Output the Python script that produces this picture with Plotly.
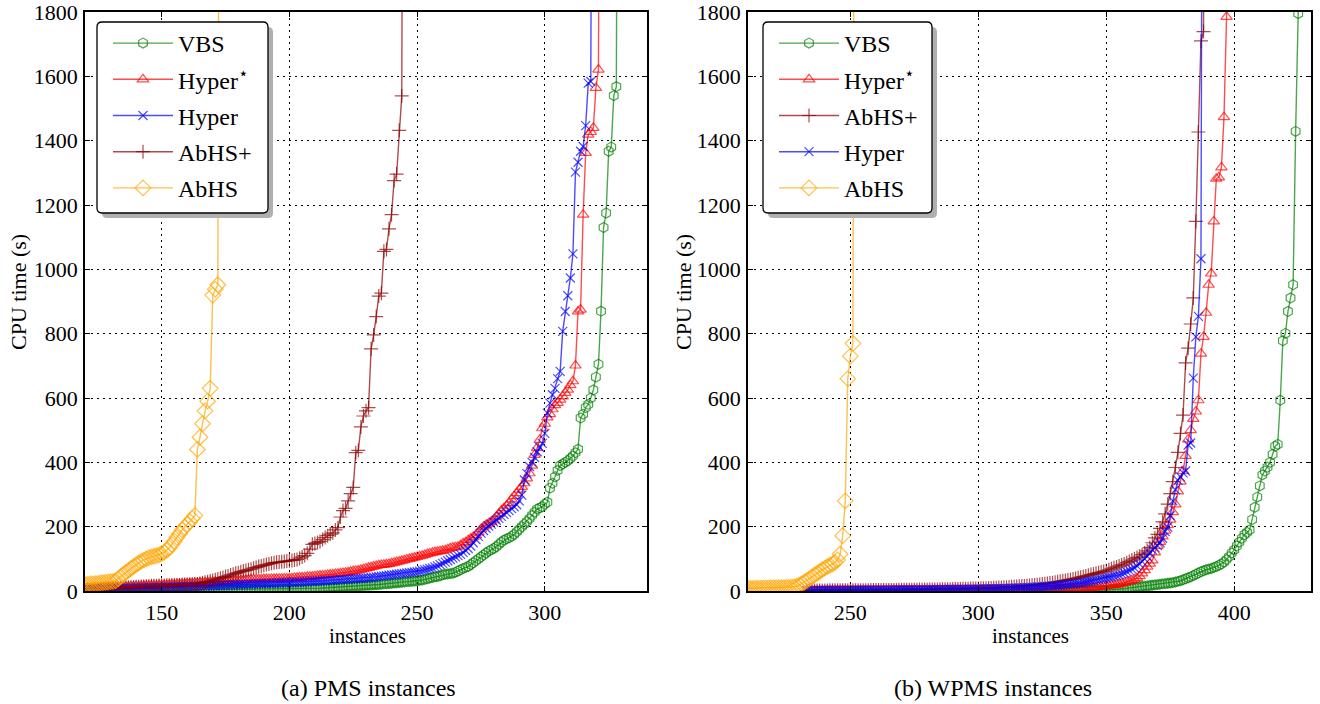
import plotly.graph_objects as go

# ---------------- DATA (CPU time in seconds, sorted, one value per solved instance) ----------------
series_names = ["VBS", "Hyper<sup>⋆</sup>", "Hyper", "AbHS+", "AbHS"]

# ---- (a) PMS instances ----
pms_vbs_start = 120
pms_vbs = [
    0.3, 0.3, 0.4, 0.4, 0.4, 0.5, 0.5, 0.5, 0.6, 0.6,          # 120-129
    0.7, 0.7, 0.8, 0.8, 0.9, 0.9, 1.0, 1.0, 1.1, 1.1,          # 130-139
    1.2, 1.2, 1.3, 1.3, 1.4, 1.5, 1.5, 1.6, 1.7, 1.7,          # 140-149
    1.8, 1.9, 2.0, 2.0, 2.1, 2.2, 2.3, 2.4, 2.5, 2.6,          # 150-159
    2.7, 2.8, 2.9, 3.0, 3.0, 3.1, 3.2, 3.3, 3.3, 3.4,          # 160-169
    3.5, 3.6, 3.6, 3.7, 3.8, 3.9, 3.9, 4.0, 4.1, 4.2,          # 170-179
    4.2, 4.3, 4.4, 4.5, 4.5, 4.6, 4.7, 4.8, 4.8, 4.9,          # 180-189
    5.0, 5.0, 5.1, 5.1, 5.2, 5.2, 5.3, 5.3, 5.4, 5.5,          # 190-199
    5.6, 5.8, 6.0, 6.2, 6.4, 6.6, 6.9, 7.2, 7.5, 7.8,          # 200-209
    8.0, 8.4, 8.8, 9.2, 9.6, 10, 10.5, 11, 11.5, 12,           # 210-219
    12.5, 13, 13.5, 14, 14.5, 15, 15.5, 16, 16.5, 17,          # 220-229
    17.5, 18, 18.5, 19, 19.5, 20, 21, 22, 22.5, 23,            # 230-239
    24, 25, 25.5, 26, 27, 28, 29, 29.5, 30, 31,                # 240-249
    32, 33, 34, 36, 38, 40, 42, 44, 45, 47,                    # 250-259
    50, 52, 53, 54, 55, 58, 62, 66, 70, 73,                    # 260-269
    76, 82, 88, 94, 100, 106, 112, 118, 124, 128,              # 270-279
    132, 138, 145, 152, 158, 162, 165, 170, 176, 184,          # 280-289
    192, 200, 208, 216, 225, 235, 245, 255, 258, 262,          # 290-299
    270, 276, 320, 335, 355, 375, 390, 395, 400, 405,          # 300-309
    412, 420, 430, 441, 538, 550, 570, 580, 600, 625,          # 310-319
    665, 705, 870, 1130, 1175, 1367, 1380, 1540, 1568, 4000,   # 320-329
]

pms_hyperstar_start = 120
pms_hyperstar = [
    8, 8.5, 9, 9, 9.5, 10, 10, 10.5, 11, 11,                   # 120-129
    11.5, 12, 12, 12.5, 13, 13, 13.5, 14, 14, 14.5,            # 130-139
    15, 15, 15.5, 16, 16, 16.5, 17, 17, 17.5, 18,              # 140-149
    18, 18.5, 19, 19.5, 20, 20.5, 21, 21.5, 22, 22.5,          # 150-159
    23, 23.5, 24, 24.5, 25, 25.5, 26, 26.5, 27, 27.5,          # 160-169
    28, 28.5, 29, 29.5, 30, 30.5, 31, 31.5, 32, 32.5,          # 170-179
    33, 33.5, 34, 34.5, 35, 35.5, 36, 36, 36.5, 36.5,          # 180-189
    37, 37, 37.5, 37.5, 38, 38, 38.5, 38.5, 39, 39,            # 190-199
    39.5, 40, 40.5, 41, 42, 42.5, 43, 44, 44.5, 45,            # 200-209
    46, 47, 48, 48.5, 49, 50, 51, 52, 53, 54,                  # 210-219
    55, 56, 57, 58, 60, 62, 63, 64, 66, 68,                    # 220-229
    70, 72, 74, 76, 78, 80, 81, 82, 83, 84,                    # 230-239
    86, 88, 90, 92, 94, 96, 98, 100, 102, 104,                 # 240-249
    106, 108, 110, 112, 115, 117, 119, 121, 122, 124,          # 250-259
    125, 127, 130, 133, 135, 136, 138, 142, 148, 152,          # 260-269
    158, 163, 168, 174, 182, 192, 200, 205, 210, 215,          # 270-279
    220, 231, 240, 250, 257, 265, 273, 285, 295, 304,          # 280-289
    315, 324, 335, 350, 366, 390, 423, 445, 470, 506,          # 290-299
    520, 540, 550, 565, 578, 585, 595, 605, 616, 626,          # 300-309
    640, 652, 701, 869, 875, 1170, 1362, 1419, 1427, 1440,     # 310-319
    1564, 1621, 4000,                                          # 320-322
]

pms_hyper_start = 120
pms_hyper = [
    5, 5.2, 5.4, 5.6, 5.8, 6, 6.2, 6.4, 6.6, 6.8,              # 120-129
    7, 7.2, 7.4, 7.6, 7.8, 8, 8.2, 8.4, 8.6, 8.8,              # 130-139
    9, 9.2, 9.4, 9.6, 9.8, 10, 10.2, 10.4, 10.6, 10.8,         # 140-149
    11, 11.3, 11.6, 11.9, 12.2, 12.5, 12.8, 13.1, 13.4, 13.7,  # 150-159
    14, 14.3, 14.6, 14.9, 15.2, 15.5, 15.8, 16.1, 16.4, 16.7,  # 160-169
    17, 17.3, 17.6, 17.9, 18.2, 18.5, 18.8, 19.1, 19.4, 19.7,  # 170-179
    20, 20.3, 20.6, 20.9, 21.2, 21.5, 21.8, 22.1, 22.4, 22.7,  # 180-189
    23, 23.3, 23.6, 23.9, 24.2, 24.5, 24.8, 25.1, 25.4, 25.7,  # 190-199
    26, 26.3, 26.6, 27, 27.4, 27.8, 28.2, 28.6, 29, 29.5,      # 200-209
    30, 30.5, 31, 31.5, 32, 32.5, 33, 33.5, 34, 34.5,          # 210-219
    35, 35.5, 36, 36.5, 37, 37.5, 38, 38.5, 39, 39.5,          # 220-229
    40, 41, 42, 43, 44, 45, 46, 47, 48, 49,                    # 230-239
    50, 51, 52, 53, 54, 55, 56, 57, 58, 59,                    # 240-249
    60, 62, 64, 66, 68, 70, 72, 75, 78, 82,                    # 250-259
    86, 90, 94, 98, 102, 106, 110, 114, 120, 126,              # 260-269
    132, 140, 150, 160, 170, 180, 188, 195, 202, 208,          # 270-279
    214, 220, 226, 232, 238, 244, 250, 256, 262, 268,          # 280-289
    280, 298, 345, 365, 387, 400, 415, 433, 446, 459,          # 290-299
    490, 553, 584, 610, 630, 660, 683, 807, 869, 918,          # 300-309
    973, 1048, 1302, 1333, 1367, 1382, 1447, 1579, 1584, 4000, # 310-319
]

pms_abhsplus_start = 120
pms_abhsplus = [
    3, 3, 4, 4, 5, 5, 6, 6, 7, 7,                              # 120-129
    8, 8, 9, 9, 10, 10, 11, 11, 12, 12,                        # 130-139
    13, 13, 14, 14, 15, 15, 16, 16, 16, 17,                    # 140-149
    17, 17, 18, 18, 18, 19, 19, 19, 20, 20,                    # 150-159
    20, 21, 21, 22, 22, 23, 25, 27, 29, 31,                    # 160-169
    33, 35, 37, 40, 42, 45, 47, 50, 52, 55,                    # 170-179
    57, 60, 62, 64, 66, 68, 71, 73, 76, 78,                    # 180-189
    80, 82, 84, 86, 88, 89, 90, 91, 92, 93,                    # 190-199
    94, 95, 96, 98, 102, 106, 110, 117, 130, 145,              # 200-209
    148, 151, 154, 160, 166, 172, 177, 181, 190, 197,          # 210-219
    230, 250, 257, 280, 303, 322, 430, 437, 510, 544,          # 220-229
    560, 570, 753, 796, 853, 917, 926, 1056, 1062, 1126,       # 230-239
    1170, 1276, 1296, 1432, 1539, 4000,                        # 240-245
]

pms_abhs_start = 118
pms_abhs = [
    18, 19, 20, 21, 22, 22, 23, 24, 25, 26,                    # 118-127
    27, 28, 29, 30, 32, 38, 45, 52, 58, 64,                    # 128-137
    70, 76, 82, 87, 92, 96, 100, 104, 106, 108,                # 138-147
    110, 112, 116, 120, 126, 134, 145, 155, 167, 178,          # 148-157
    190, 198, 207, 216, 225, 235, 440, 478, 520, 560,          # 158-167
    590, 630, 920, 938, 952, 4000,                             # 168-173
]

# ---- (b) WPMS instances ----
wpms_vbs_start = 330
wpms_vbs = [
    0.2, 0.2, 0.3, 0.3, 0.3, 0.4, 0.4, 0.4, 0.5, 0.5,          # 330-339
    0.6, 0.7, 0.9, 1.1, 1.3, 1.5, 1.8, 2.1, 2.4, 2.7,          # 340-349
    3, 3.5, 4, 4.5, 5, 5.5, 6, 7, 8, 9,                        # 350-359
    10, 11, 12, 13, 14, 15, 16, 17, 18, 19,                    # 360-369
    20, 21, 22, 23, 24, 25, 26, 28, 30, 32,                    # 370-379
    35, 38, 41, 44, 48, 52, 56, 60, 63, 66,                    # 380-389
    68, 70, 73, 76, 80, 84, 90, 98, 107, 118,                  # 390-399
    128, 140, 152, 164, 175, 182, 190, 222, 260, 292,          # 400-409
    327, 361, 373, 385, 400, 425, 450, 456, 593, 778,          # 410-419
    801, 869, 911, 952, 1429, 1795, 4000,                      # 420-426
]

wpms_hyperstar_start = 233
wpms_hyperstar = [
    1.0, 1.0, 1.1, 1.1, 1.1, 1.2, 1.2, 1.2, 1.3, 1.3,          # 233-242
    1.3, 1.4, 1.4, 1.4, 1.5, 1.5, 1.5, 1.6, 1.6, 1.6,          # 243-252
    1.7, 1.7, 1.7, 1.8, 1.8, 1.8, 1.9, 1.9, 1.9, 2.0,          # 253-262
    2.0, 2.0, 2.1, 2.1, 2.1, 2.2, 2.2, 2.2, 2.3, 2.3,          # 263-272
    2.3, 2.4, 2.4, 2.4, 2.5, 2.5, 2.5, 2.6, 2.6, 2.6,          # 273-282
    2.7, 2.7, 2.8, 2.8, 2.9, 2.9, 3.0, 3.0, 3.1, 3.1,          # 283-292
    3.2, 3.2, 3.3, 3.3, 3.4, 3.4, 3.5, 3.5, 3.6, 3.6,          # 293-302
    3.7, 3.7, 3.8, 3.8, 3.9, 4.0, 4.0, 4.1, 4.2, 4.2,          # 303-312
    4.3, 4.4, 4.4, 4.5, 4.6, 4.7, 4.8, 4.9, 5.0, 5.1,          # 313-322
    5.2, 5.3, 5.4, 5.6, 5.8, 6.0, 6.2, 6.4, 6.6, 6.8,          # 323-332
    7.0, 7.3, 7.6, 7.9, 8.2, 8.5, 8.8, 9.2, 9.6, 10,           # 333-342
    10.5, 11, 11.5, 12, 13, 14, 15, 16, 17, 18,                # 343-352
    19, 20, 22, 24, 26, 28, 30, 33, 36, 40,                    # 353-362
    46, 55, 65, 76, 85, 95, 120, 140, 153, 170,                # 363-372
    188, 205, 222, 245, 269, 310, 340, 373, 420, 471,          # 373-382
    500, 535, 558, 593, 738, 790, 865, 952, 987, 1149,         # 383-392
    1282, 1286, 1317, 1473, 1785, 4000,                        # 393-398
]

wpms_abhsplus_start = 233
wpms_abhsplus = [
    1.5, 1.6, 1.6, 1.7, 1.7, 1.8, 1.8, 1.9, 1.9, 2.0,          # 233-242
    2.0, 2.1, 2.1, 2.2, 2.2, 2.3, 2.3, 2.4, 2.4, 2.5,          # 243-252
    2.5, 2.6, 2.6, 2.7, 2.7, 2.8, 2.8, 2.9, 2.9, 3.0,          # 253-262
    3.0, 3.1, 3.1, 3.2, 3.3, 3.4, 3.5, 3.6, 3.7, 3.8,          # 263-272
    3.9, 4.0, 4.1, 4.2, 4.3, 4.4, 4.5, 4.6, 4.7, 4.8,          # 273-282
    4.9, 5.0, 5.1, 5.2, 5.4, 5.6, 5.8, 6.0, 6.2, 6.4,          # 283-292
    6.6, 6.8, 7.0, 7.2, 7.4, 7.6, 7.8, 8.0, 8.3, 8.6,          # 293-302
    8.9, 9.2, 9.5, 9.8, 10.2, 10.6, 11, 11.5, 12, 12.5,        # 303-312
    13, 13.5, 14, 14.6, 15.2, 15.8, 16.5, 17.2, 18, 18.8,      # 313-322
    19.6, 20.5, 21.5, 22.5, 23.5, 24.5, 25.5, 27, 28.5, 30,    # 323-332
    31.5, 33, 34.5, 36, 37.5, 39, 41, 43, 45, 47,              # 333-342
    49, 51, 53, 55, 57, 59, 61, 63, 66, 69,                    # 343-352
    72, 75, 78, 81, 84, 88, 92, 96, 100, 104,                  # 353-362
    108, 113, 118, 125, 135, 150, 165, 176, 195, 215,          # 363-372
    240, 270, 303, 340, 384, 431, 490, 547, 709, 755,          # 373-382
    830, 911, 1149, 1427, 1710, 1739, 4000,                    # 383-389
]

wpms_hyper_start = 233
wpms_hyper = [
    1.2, 1.3, 1.3, 1.4, 1.4, 1.5, 1.5, 1.6, 1.6, 1.7,          # 233-242
    1.7, 1.8, 1.8, 1.9, 1.9, 2.0, 2.0, 2.1, 2.1, 2.2,          # 243-252
    2.2, 2.3, 2.3, 2.4, 2.4, 2.5, 2.5, 2.6, 2.6, 2.7,          # 253-262
    2.7, 2.8, 2.8, 2.9, 2.9, 3.0, 3.0, 3.1, 3.1, 3.2,          # 263-272
    3.2, 3.3, 3.3, 3.4, 3.4, 3.5, 3.6, 3.7, 3.8, 3.9,          # 273-282
    4.0, 4.1, 4.2, 4.3, 4.4, 4.5, 4.6, 4.7, 4.8, 4.9,          # 283-292
    5.0, 5.1, 5.2, 5.3, 5.4, 5.5, 5.6, 5.8, 6.0, 6.2,          # 293-302
    6.4, 6.6, 6.8, 7.0, 7.2, 7.4, 7.6, 7.8, 8.0, 8.3,          # 303-312
    8.6, 8.9, 9.2, 9.5, 9.8, 10.2, 10.6, 11, 11.5, 12,         # 313-322
    12.5, 13, 13.5, 14, 14.6, 15.2, 15.8, 16.5, 17.2, 18,      # 323-332
    18.8, 19.6, 20.5, 21.5, 22.5, 23.5, 24.5, 25.5, 26.5, 28,  # 333-342
    29.5, 31, 32.5, 34, 35.5, 37, 38.5, 40, 42, 44,            # 343-352
    46, 48, 50, 53, 56, 60, 64, 68, 72, 78,                    # 353-362
    84, 92, 100, 108, 118, 128, 135, 141, 150, 164,            # 363-372
    185, 199, 234, 280, 315, 344, 355, 367, 373, 454,          # 373-382
    460, 662, 790, 854, 1033, 4000,                            # 383-388
]

wpms_abhs_start = 205
wpms_abhs = [
    7, 7.2, 7.4, 7.6, 7.8, 8, 8.2, 8.4, 8.6, 8.8,              # 205-214
    9, 9.2, 9.4, 9.6, 9.8, 10, 10.2, 10.4, 10.6, 10.8,         # 215-224
    11, 11.5, 12, 13, 15, 18, 23, 28, 33, 38,                  # 225-234
    44, 50, 55, 60, 66, 71, 76, 80, 84, 89,                    # 235-244
    97, 115, 172, 280, 660, 730, 770, 4000,                    # 245-252
]

pms_x_ticks = [150, 200, 250, 300]
wpms_x_ticks = [250, 300, 350, 400]
y_ticks = [0, 200, 400, 600, 800, 1000, 1200, 1400, 1600, 1800]

# ---------------- STYLE ----------------
W, H = 1320, 704
PLOT_TOP, PLOT_BOTTOM = 12, 591
FONT = "Liberation Serif, Times New Roman, Times, serif"

styles = {
    "VBS":   dict(color="rgba(0,128,0,0.7)",   symbol="hexagon-open",      size=10),
    "Hyper*": dict(color="rgba(255,0,0,0.7)",  symbol="triangle-up-open",  size=10),
    "Hyper": dict(color="rgba(0,0,255,0.7)",   symbol="x-thin-open",       size=9),
    "AbHS+": dict(color="rgba(139,0,0,0.7)",   symbol="cross-thin-open",   size=10),
    "AbHS":  dict(color="rgba(255,165,0,0.7)", symbol="diamond-open",      size=12),
}


def fx(px):
    return px / W


def fy(py):
    return (PLOT_BOTTOM - py) / (PLOT_BOTTOM - PLOT_TOP)


fig = go.Figure()


def add(name, key, start, vals, xa, ya, legend, group):
    st = styles[key]
    fig.add_trace(go.Scatter(
        x=list(range(start, start + len(vals))), y=vals,
        mode="lines+markers", name=name,
        line=dict(color=st["color"], width=1.4),
        marker=dict(symbol=st["symbol"], size=st["size"], color=st["color"],
                    line=dict(color=st["color"], width=1.2)),
        xaxis=xa, yaxis=ya, legend=legend, legendgroup=group,
    ))


# left panel (legend order = drawing order)
add(series_names[0], "VBS", pms_vbs_start, pms_vbs, "x", "y", "legend", "a1")
add(series_names[1], "Hyper*", pms_hyperstar_start, pms_hyperstar, "x", "y", "legend", "a2")
add(series_names[2], "Hyper", pms_hyper_start, pms_hyper, "x", "y", "legend", "a3")
add(series_names[3], "AbHS+", pms_abhsplus_start, pms_abhsplus, "x", "y", "legend", "a4")
add(series_names[4], "AbHS", pms_abhs_start, pms_abhs, "x", "y", "legend", "a5")

# right panel
add(series_names[0], "VBS", wpms_vbs_start, wpms_vbs, "x2", "y2", "legend2", "b1")
add(series_names[1], "Hyper*", wpms_hyperstar_start, wpms_hyperstar, "x2", "y2", "legend2", "b2")
add(series_names[3], "AbHS+", wpms_abhsplus_start, wpms_abhsplus, "x2", "y2", "legend2", "b3")
add(series_names[2], "Hyper", wpms_hyper_start, wpms_hyper, "x2", "y2", "legend2", "b4")
add(series_names[4], "AbHS", wpms_abhs_start, wpms_abhs, "x2", "y2", "legend2", "b5")

axis_common = dict(
    showline=True, linecolor="black", linewidth=1.5, mirror="allticks",
    ticks="inside", ticklen=5, tickwidth=1, tickcolor="black",
    showgrid=True, gridcolor="black", griddash="2px,4px", gridwidth=1.3,
    zeroline=False, tickfont=dict(family=FONT, size=22, color="black"),
    ticklabeloverflow="allow",
)

fig.update_layout(
    width=W, height=H,
    margin=dict(l=0, r=0, t=PLOT_TOP, b=H - PLOT_BOTTOM, pad=0),
    paper_bgcolor="white", plot_bgcolor="white",
    font=dict(family=FONT, size=21, color="black"),
    showlegend=True,
    xaxis=dict(axis_common, domain=[fx(85), fx(647)], range=[120, 340],
               tickvals=pms_x_ticks, anchor="y", ticklabelstandoff=1),
    yaxis=dict(axis_common, domain=[0, 1], range=[0, 1800], tickvals=y_ticks,
               anchor="x", ticklabelstandoff=1),
    xaxis2=dict(axis_common, domain=[fx(748), fx(1311)], range=[210, 430],
                tickvals=wpms_x_ticks, anchor="y2", ticklabelstandoff=1),
    yaxis2=dict(axis_common, domain=[0, 1], range=[0, 1800], tickvals=y_ticks,
                anchor="x2", ticklabelstandoff=1),
    legend=dict(x=fx(108), y=fy(21), xanchor="left", yanchor="top",
                bgcolor="rgba(0,0,0,0)", borderwidth=0,
                font=dict(family=FONT, size=24, color="black"),
                itemwidth=60, tracegroupgap=2),
    legend2=dict(x=fx(774), y=fy(21), xanchor="left", yanchor="top",
                 bgcolor="rgba(0,0,0,0)", borderwidth=0,
                 font=dict(family=FONT, size=24, color="black"),
                 itemwidth=60, tracegroupgap=2),
)


def rounded_rect(x0, y0, x1, y1, r):
    pts = [
        ("M", [(x0 + r, y0)]),
        ("L", [(x1 - r, y0)]),
        ("Q", [(x1, y0), (x1, y0 + r)]),
        ("L", [(x1, y1 - r)]),
        ("Q", [(x1, y1), (x1 - r, y1)]),
        ("L", [(x0 + r, y1)]),
        ("Q", [(x0, y1), (x0, y1 - r)]),
        ("L", [(x0, y0 + r)]),
        ("Q", [(x0, y0), (x0 + r, y0)]),
    ]
    s = ""
    for cmd, ps in pts:
        s += cmd + " ".join(f"{fx(px):.5f},{fy(py):.5f}" for px, py in ps) + " "
    return s + "Z"


shapes = []
for (bx0, by0, bx1, by1) in [(97, 22, 268, 213), (763, 22, 932, 213)]:
    shapes.append(dict(type="path", xref="paper", yref="paper",
                       path=rounded_rect(bx0 + 5, by0 + 5, bx1 + 5, by1 + 5, 5),
                       fillcolor="#b0b0b0", line=dict(width=0), layer="above"))
    shapes.append(dict(type="path", xref="paper", yref="paper",
                       path=rounded_rect(bx0, by0, bx1, by1, 5),
                       fillcolor="white", line=dict(color="black", width=1.3), layer="above"))
fig.update_layout(shapes=shapes)

ann = []
for cx in [18, 683]:
    ann.append(dict(text="CPU time (s)", x=fx(cx), y=fy(292), xref="paper", yref="paper",
                    textangle=-90, showarrow=False, font=dict(family=FONT, size=22),
                    xanchor="center", yanchor="middle"))
for cx in [367, 1030]:
    ann.append(dict(text="instances", x=fx(cx), y=fy(636), xref="paper", yref="paper",
                    showarrow=False, font=dict(family=FONT, size=21),
                    xanchor="center", yanchor="middle"))
ann.append(dict(text="(a) PMS instances", x=fx(368), y=fy(688), xref="paper", yref="paper",
                showarrow=False, font=dict(family=FONT, size=24), xanchor="center", yanchor="middle"))
ann.append(dict(text="(b) WPMS instances", x=fx(993), y=fy(688), xref="paper", yref="paper",
                showarrow=False, font=dict(family=FONT, size=24), xanchor="center", yanchor="middle"))
fig.update_layout(annotations=ann)

# remove the default 8px page margin so the figure sits at the window's top-left corner
fig.write_html("out.html",
               config={"displayModeBar": False},
               post_script="document.body.style.margin='0px';document.body.style.overflow='hidden';")
